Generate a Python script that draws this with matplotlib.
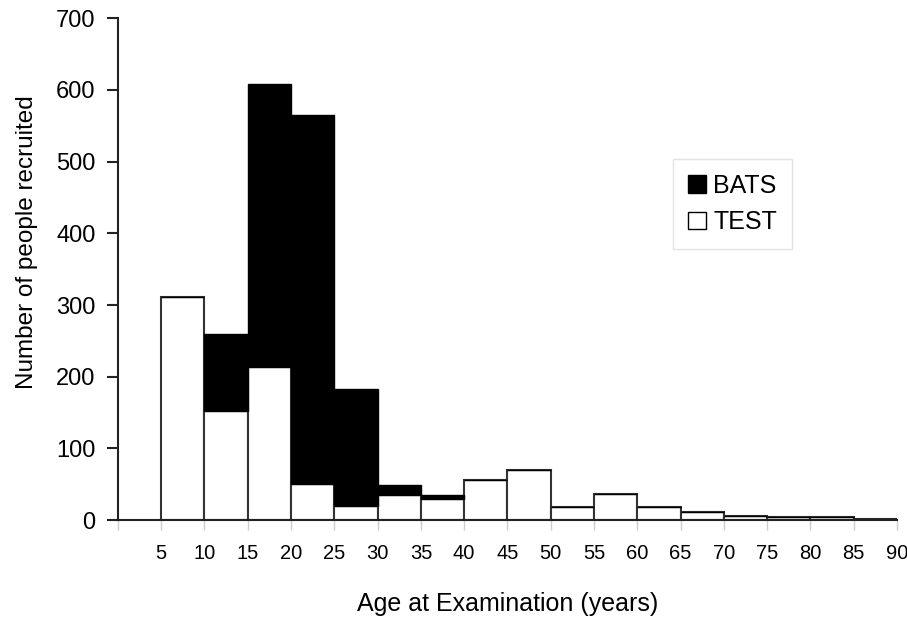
import matplotlib
matplotlib.use('Agg')
import matplotlib.pyplot as plt
from matplotlib.patches import Patch
import numpy as np

# age bins (left edges, 5 year wide)
bin_left = [5, 10, 15, 20, 25, 30, 35, 40, 45, 50, 55, 60, 65, 70, 75, 80, 85]
test = [311, 152, 214, 50, 20, 35, 29, 56, 70, 19, 36, 19, 12, 6, 4, 4, 2]
bats = [0, 108, 394, 515, 163, 14, 6, 0, 0, 0, 0, 0, 0, 0, 0, 0, 0]
xtick_labels = [str(v) for v in range(5, 95, 5)]

plt.rcParams['font.family'] = ['Liberation Sans Narrow', 'Liberation Sans', 'DejaVu Sans']

fig = plt.figure(figsize=(9.07, 6.23), dpi=100)
ax = fig.add_axes([0.130, 0.165, 0.859, 0.806])

ax.bar(bin_left, test, width=5, align='edge', color='white', edgecolor='#333333', linewidth=1.5)
ax.bar(bin_left, bats, width=5, align='edge', bottom=test, color='black', edgecolor='black', linewidth=1.0)

ax.set_xlim(0, 90)
ax.set_ylim(0, 700)

ax.spines['top'].set_visible(False)
ax.spines['right'].set_visible(False)
for s in ['left', 'bottom']:
    ax.spines[s].set_linewidth(1.5)
    ax.spines[s].set_color('#222222')

ax.set_yticks(np.arange(0, 800, 100))
ax.tick_params(axis='y', labelsize=17, length=8, width=1.5, pad=8, color='#222222')
ax.set_xticks(np.arange(0, 95, 5))
ax.set_xticklabels([''] + xtick_labels)
ax.tick_params(axis='x', labelsize=14.5, length=7, width=1.0, pad=10, color='#cccccc')
ax.get_xticklines()[0].set_color('#222222')

ax.set_ylabel('Number of people recruited', fontsize=17.5)
ax.yaxis.set_label_coords(-0.103, 0.554)
ax.set_xlabel('Age at Examination (years)', fontsize=18, labelpad=21)

handles = [Patch(facecolor='black', edgecolor='black'),
           Patch(facecolor='white', edgecolor='black')]
leg = ax.legend(handles, ['BATS', 'TEST'], loc='upper left', bbox_to_anchor=(0.713, 0.72),
                fontsize=18, frameon=True, fancybox=False, handlelength=0.7, handleheight=0.7,
                handletextpad=0.3, borderpad=0.6, labelspacing=0.5, borderaxespad=0)
leg.get_frame().set_edgecolor('#dddddd')
leg.get_frame().set_linewidth(1.0)

fig.savefig('out.png', dpi=100)
